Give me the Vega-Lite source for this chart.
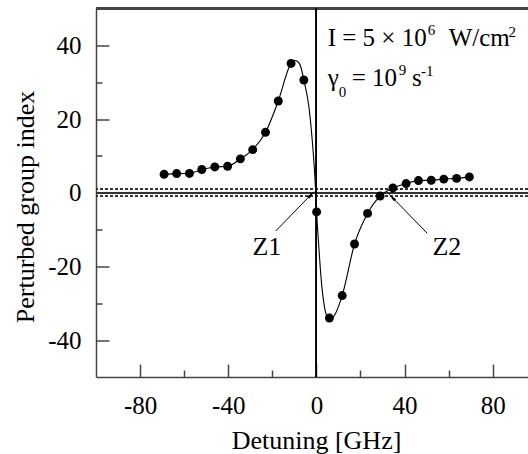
{
  "$schema": "https://vega.github.io/schema/vega-lite/v6.json",
  "width": 432,
  "height": 368.5,
  "autosize": {"type": "none"},
  "padding": {"left": 96, "top": 8.5, "right": 0, "bottom": 77},
  "background": "white",
  "config": {
    "view": {"stroke": null},
    "font": "Liberation Serif",
    "axis": {
      "grid": false,
      "domainColor": "#444",
      "domainWidth": 1.5,
      "tickColor": "#444",
      "tickWidth": 1.5,
      "labelFont": "Liberation Serif",
      "labelFontSize": 25,
      "labelColor": "#000",
      "titleFont": "Liberation Serif",
      "titleFontSize": 26,
      "titleFontWeight": "normal",
      "titleColor": "#000"
    }
  },
  "resolve": {"axis": {"x": "independent", "y": "independent"}},
  "datasets": {
    "measured": [
      {"detuning": -69.1, "index": 5.0},
      {"detuning": -63.4, "index": 5.2},
      {"detuning": -57.6, "index": 5.25},
      {"detuning": -52.0, "index": 6.3},
      {"detuning": -46.1, "index": 7.0},
      {"detuning": -40.3, "index": 7.2},
      {"detuning": -34.5, "index": 9.2},
      {"detuning": -28.9, "index": 11.7},
      {"detuning": -23.1, "index": 16.4},
      {"detuning": -17.3, "index": 24.9},
      {"detuning": -11.5, "index": 35.1},
      {"detuning": -5.7, "index": 30.6},
      {"detuning": 0.1, "index": -5.2},
      {"detuning": 5.9, "index": -34.0},
      {"detuning": 11.7, "index": -27.9},
      {"detuning": 17.3, "index": -13.9},
      {"detuning": 23.2, "index": -5.6},
      {"detuning": 28.9, "index": -0.9},
      {"detuning": 34.7, "index": 1.3},
      {"detuning": 40.7, "index": 2.5},
      {"detuning": 46.3, "index": 3.3},
      {"detuning": 52.1, "index": 3.4},
      {"detuning": 57.8, "index": 3.7},
      {"detuning": 63.6, "index": 3.9},
      {"detuning": 69.4, "index": 4.3}
    ],
    "theory": [
      {"detuning": -69.1, "index": 5.0},
      {"detuning": -63.4, "index": 5.2},
      {"detuning": -57.6, "index": 5.25},
      {"detuning": -52.0, "index": 6.3},
      {"detuning": -46.1, "index": 7.0},
      {"detuning": -40.3, "index": 7.2},
      {"detuning": -34.5, "index": 9.2},
      {"detuning": -28.9, "index": 11.7},
      {"detuning": -23.1, "index": 16.4},
      {"detuning": -17.3, "index": 24.9},
      {"detuning": -11.5, "index": 35.1},
      {"detuning": -10.0, "index": 35.9},
      {"detuning": -8.5, "index": 35.6},
      {"detuning": -7.0, "index": 34.0},
      {"detuning": -5.7, "index": 30.6},
      {"detuning": -3.4, "index": 23.3},
      {"detuning": -1.9, "index": 14.3},
      {"detuning": -0.8, "index": 5.3},
      {"detuning": -0.3, "index": 0.0},
      {"detuning": 0.1, "index": -5.2},
      {"detuning": 1.1, "index": -14.7},
      {"detuning": 2.2, "index": -23.7},
      {"detuning": 3.4, "index": -30.0},
      {"detuning": 4.6, "index": -33.3},
      {"detuning": 6.0, "index": -34.5},
      {"detuning": 7.3, "index": -34.0},
      {"detuning": 8.7, "index": -32.7},
      {"detuning": 11.7, "index": -27.9},
      {"detuning": 17.3, "index": -13.9},
      {"detuning": 23.2, "index": -5.6},
      {"detuning": 28.9, "index": -0.9},
      {"detuning": 34.7, "index": 1.3},
      {"detuning": 40.7, "index": 2.5},
      {"detuning": 46.3, "index": 3.3},
      {"detuning": 52.1, "index": 3.4},
      {"detuning": 57.8, "index": 3.7},
      {"detuning": 63.6, "index": 3.9},
      {"detuning": 69.4, "index": 4.3}
    ],
    "arrows": [
      {"name": "Z1", "x": -18.5, "y": -10.4, "x2": -1.1, "y2": 0.3},
      {"name": "Z2", "x": 50.3, "y": -11.0, "x2": 33.0, "y2": -0.4}
    ],
    "bigText": [
      {"label": "I = 5 × 10", "x": 5.1, "y": 39.8},
      {"label": "W/cm", "x": 60.0, "y": 39.8},
      {"label": "γ", "x": 5.1, "y": 29.0},
      {"label": "= 10", "x": 16.0, "y": 29.0},
      {"label": "s", "x": 43.4, "y": 29.0}
    ],
    "smallText": [
      {"label": "6", "x": 50.5, "y": 42.8},
      {"label": "2", "x": 87.2, "y": 42.4},
      {"label": "0", "x": 10.1, "y": 26.0},
      {"label": "9", "x": 37.4, "y": 31.9},
      {"label": "-1", "x": 47.5, "y": 31.7}
    ],
    "zLabels": [
      {"label": "Z1", "x": -22.5, "y": -17.0},
      {"label": "Z2", "x": 59.2, "y": -17.0}
    ]
  },
  "layer": [
    {
      "data": {"name": "measured"},
      "mark": {"type": "rule", "color": "#444", "strokeWidth": 1.5},
      "encoding": {
        "y": {"datum": 50, "type": "quantitative", "scale": {"domain": [-50, 50], "nice": false, "zero": false}, "axis": null}
      }
    },
    {
      "data": {"name": "measured"},
      "mark": {"type": "rule", "color": "#333", "strokeWidth": 1},
      "encoding": {"y": {"datum": 0, "type": "quantitative", "axis": null}}
    },
    {
      "data": {"name": "measured"},
      "mark": {"type": "rule", "color": "#333", "strokeWidth": 1, "strokeDash": [3, 2]},
      "encoding": {"y": {"datum": 1, "type": "quantitative", "axis": null}}
    },
    {
      "data": {"name": "measured"},
      "mark": {"type": "rule", "color": "#333", "strokeWidth": 1, "strokeDash": [3, 2]},
      "encoding": {"y": {"datum": -1, "type": "quantitative", "axis": null}}
    },
    {
      "data": {"name": "measured"},
      "mark": {"type": "rule", "color": "#000", "strokeWidth": 1},
      "encoding": {"x": {"datum": 0, "type": "quantitative", "scale": {"domain": [-100, 96], "nice": false, "zero": false}, "axis": null}}
    },
    {
      "data": {"name": "theory"},
      "mark": {"type": "line", "color": "#000", "strokeWidth": 1.1, "interpolate": "monotone"},
      "encoding": {
        "x": {
          "field": "detuning", "type": "quantitative",
          "axis": {
            "orient": "bottom",
            "title": "Detuning [GHz]",
            "values": [-80, -40, 0, 40, 80],
            "labelExpr": "replace(datum.label, '−', '-')",
            "labelFont": "Liberation Serif",
            "labelFontSize": 25,
            "labelColor": "#000",
            "tickSize": -13,
            "labelPadding": 49,
            "labelBaseline": "alphabetic",
            "labelFlush": false,
            "labelOverlap": false,
            "titleX": 220,
            "titleY": 71,
            "titleBaseline": "alphabetic",
            "encoding": {"labels": {"font": {"value": "Liberation Serif"}, "fontSize": {"value": 25}}}
          }
        },
        "y": {
          "field": "index", "type": "quantitative",
          "axis": {
            "orient": "left",
            "title": "Perturbed group index",
            "values": [-40, -20, 0, 20, 40],
            "labelExpr": "replace(datum.label, '−', '-')",
            "labelFont": "Liberation Serif",
            "labelFontSize": 25,
            "labelColor": "#000",
            "tickSize": -13,
            "labelPadding": 28,
            "labelFlush": false,
            "labelOverlap": false,
            "titleX": -71,
            "titleY": 198,
            "titleBaseline": "middle",
            "titleAngle": -90,
            "encoding": {"labels": {"font": {"value": "Liberation Serif"}, "fontSize": {"value": 25}}}
          }
        },
        "order": {"field": "detuning", "type": "quantitative"}
      }
    },
    {
      "data": {"name": "measured"},
      "mark": {"type": "point", "shape": "circle", "filled": true, "color": "#000", "opacity": 1, "size": 80},
      "encoding": {
        "x": {
          "field": "detuning", "type": "quantitative",
          "axis": {"orient": "bottom", "values": [-60, -20, 20, 60], "tickSize": -7, "labels": false, "domain": false, "title": null}
        },
        "y": {
          "field": "index", "type": "quantitative",
          "axis": {"orient": "left", "values": [-30, -10, 10, 30], "tickSize": -6, "labels": false, "domain": false, "title": null}
        }
      }
    },
    {
      "data": {"name": "arrows"},
      "mark": {"type": "rule", "color": "#000", "strokeWidth": 1},
      "encoding": {
        "x": {"field": "x", "type": "quantitative", "axis": null},
        "y": {"field": "y", "type": "quantitative", "axis": null},
        "x2": {"field": "x2"},
        "y2": {"field": "y2"}
      }
    },
    {
      "data": {"name": "arrows"},
      "transform": [{"filter": "datum.name === 'Z1'"}],
      "mark": {"type": "point", "shape": "M0,0L0.38,2L-0.38,2Z", "filled": true, "color": "#000", "opacity": 1, "size": 70, "angle": 44},
      "encoding": {
        "x": {"field": "x2", "type": "quantitative", "axis": null},
        "y": {"field": "y2", "type": "quantitative", "axis": null}
      }
    },
    {
      "data": {"name": "arrows"},
      "transform": [{"filter": "datum.name === 'Z2'"}],
      "mark": {"type": "point", "shape": "M0,0L0.38,2L-0.38,2Z", "filled": true, "color": "#000", "opacity": 1, "size": 70, "angle": 316},
      "encoding": {
        "x": {"field": "x2", "type": "quantitative", "axis": null},
        "y": {"field": "y2", "type": "quantitative", "axis": null}
      }
    },
    {
      "data": {"name": "bigText"},
      "mark": {"type": "text", "font": "Liberation Serif", "fontSize": 25, "align": "left", "baseline": "alphabetic", "color": "#000"},
      "encoding": {
        "x": {"field": "x", "type": "quantitative", "axis": null},
        "y": {"field": "y", "type": "quantitative", "axis": null},
        "text": {"field": "label"}
      }
    },
    {
      "data": {"name": "smallText"},
      "mark": {"type": "text", "font": "Liberation Serif", "fontSize": 15, "align": "left", "baseline": "alphabetic", "color": "#000"},
      "encoding": {
        "x": {"field": "x", "type": "quantitative", "axis": null},
        "y": {"field": "y", "type": "quantitative", "axis": null},
        "text": {"field": "label"}
      }
    },
    {
      "data": {"name": "zLabels"},
      "mark": {"type": "text", "font": "Liberation Serif", "fontSize": 26, "align": "center", "baseline": "alphabetic", "color": "#000"},
      "encoding": {
        "x": {"field": "x", "type": "quantitative", "axis": null},
        "y": {"field": "y", "type": "quantitative", "axis": null},
        "text": {"field": "label"}
      }
    }
  ]
}
